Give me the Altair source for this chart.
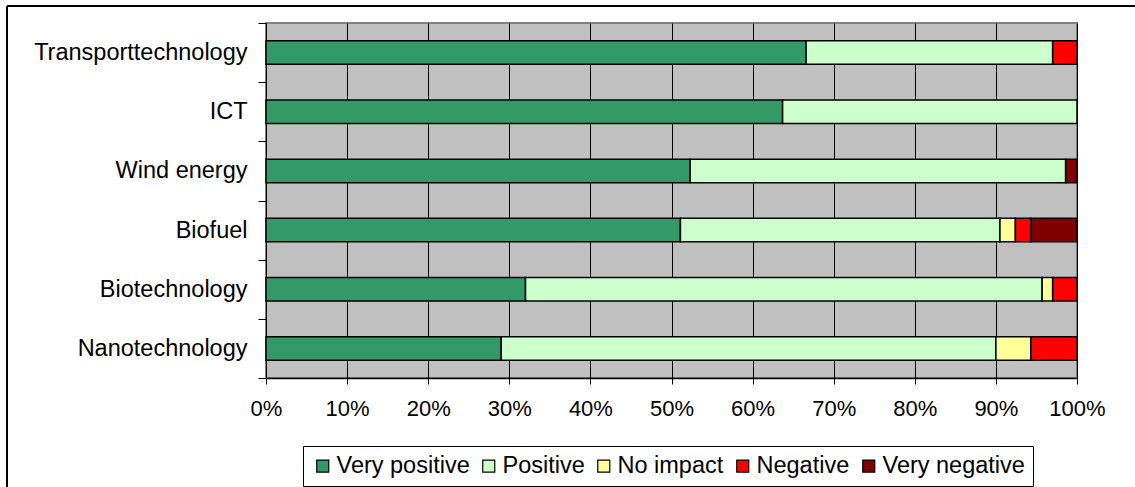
import altair as alt
import pandas as pd

# Technologies, top to bottom
categories = ["Transporttechnology", "ICT", "Wind energy", "Biofuel",
              "Biotechnology", "Nanotechnology"]

# Answer levels, in stacking order (left to right)
levels = ["Very positive", "Positive", "No impact", "Negative", "Very negative"]
level_colors = ["#339966", "#CCFFCC", "#FFFF99", "#FF0000", "#800000"]

# Share of answers per technology (%)
very_positive = [66.6, 63.7, 52.3, 51.1, 32.0, 29.0]
positive = [30.4, 36.3, 46.3, 39.4, 63.7, 61.0]
no_impact = [0.0, 0.0, 0.0, 1.9, 1.3, 4.3]
negative = [3.0, 0.0, 0.0, 1.9, 3.0, 5.7]
very_negative = [0.0, 0.0, 1.4, 5.7, 0.0, 0.0]

x_ticks = [i / 10 for i in range(11)]

series = [very_positive, positive, no_impact, negative, very_negative]
rows = []
for rank, (level, vals) in enumerate(zip(levels, series)):
    for cat, v in zip(categories, vals):
        if v > 0:
            rows.append({"technology": cat, "impact": level, "share": v, "rank": rank})
df = pd.DataFrame(rows)

FONT = "Liberation Sans"
W, H = 811, 355
PAD_L, PAD_T = 266, 23
CANVAS_W, CANVAS_H = 1135, 487

bars = alt.Chart(df).mark_bar(
    size=23.5, stroke="black", strokeWidth=1.5
).encode(
    y=alt.Y(
        "technology:N",
        sort=categories,
        scale=alt.Scale(paddingInner=0, paddingOuter=0),
        axis=alt.Axis(
            title=None, tickBand="extent", tickSize=8, tickColor="black",
            tickWidth=1, domain=False, grid=False, labelFontSize=23.5,
            labelFont=FONT, labelColor="black", labelPadding=11,
            labelLimit=0,
        ),
    ),
    x=alt.X(
        "share:Q",
        stack="normalize",
        scale=alt.Scale(domain=[0, 1], nice=False),
        axis=alt.Axis(
            title=None, format=".0%", values=x_ticks, tickSize=6,
            tickColor="black", tickWidth=1, domain=True, domainColor="black",
            domainWidth=1.5, grid=True, gridColor="black", gridWidth=1,
            gridOpacity=1, labelFontSize=22, labelFont=FONT,
            labelColor="black", labelPadding=14, labelFlush=False,
        ),
    ),
    color=alt.Color(
        "impact:N",
        sort=levels,
        scale=alt.Scale(domain=levels, range=level_colors),
        legend=alt.Legend(
            title=None, orient="none", direction="horizontal",
            legendX=37, legendY=423, symbolType="square", symbolSize=144,
            symbolStrokeColor="black", symbolStrokeWidth=1.2,
            labelFontSize=23.5, labelFont=FONT, labelColor="black",
            labelOffset=2, columnPadding=7, padding=8,
            strokeColor="black", fillColor="white", labelLimit=0,
        ),
    ),
    order=alt.Order("rank:Q"),
)

# Figure frame: top and left edges, stopping at the canvas edge
edge = pd.DataFrame({"f": [0]})
frame_top = alt.Chart(edge).mark_rule(color="black", strokeWidth=2).encode(
    x=alt.value(7 - PAD_L),
    x2=alt.value(CANVAS_W - PAD_L),
    y=alt.value(6 - PAD_T),
)
frame_left = alt.Chart(edge).mark_rule(color="black", strokeWidth=2).encode(
    x=alt.value(7 - PAD_L),
    y=alt.value(6 - PAD_T),
    y2=alt.value(CANVAS_H - PAD_T),
)

chart = alt.layer(bars, frame_top, frame_left).properties(
    width=W,
    height=H,
    autosize=alt.AutoSizeParams(type="none"),
    padding={"left": PAD_L, "top": PAD_T, "right": CANVAS_W - PAD_L - W,
             "bottom": CANVAS_H - PAD_T - H},
    background="white",
).configure_view(
    fill="#C0C0C0", stroke="#808080", strokeWidth=2
)

chart.save("out.html", embed_options={"renderer": "svg", "actions": False})
